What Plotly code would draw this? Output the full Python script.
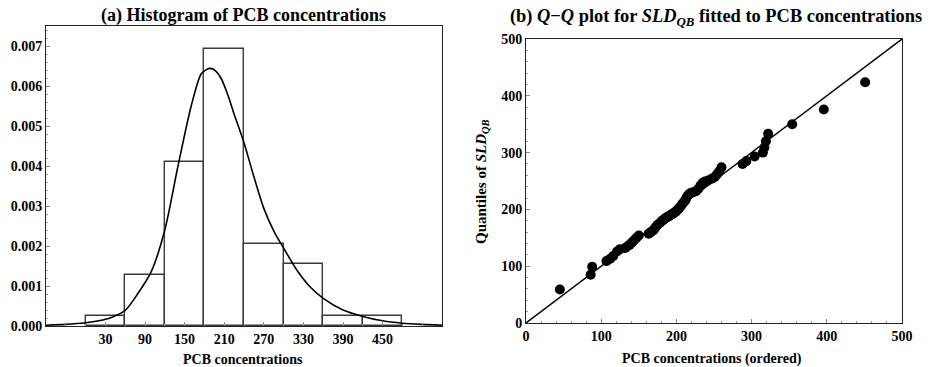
import plotly.graph_objects as go

# ---- data ----
# PCB concentrations (ordered sample, n = 65) and fitted SLD_QB quantiles
pcb_ordered = [45, 86, 88, 107, 112, 116,
               121, 125, 132, 135, 138, 141, 144, 147, 150, 163, 166, 169, 171, 173, 175, 178,
               181, 183, 185, 187, 189, 191, 193, 195, 197, 199, 200, 202, 204, 206, 208, 210,
               212, 213, 215, 217, 219, 222, 226, 229, 232, 235, 238,
               242, 247, 251, 254, 257, 260, 288, 293,
               304, 315, 317, 319, 322, 354,
               396, 451]
sld_quantiles = [59, 85, 99, 109, 113, 118,
                 126, 130, 132, 135, 138, 142, 146, 150, 154, 157, 160, 163, 166, 170, 173, 176,
                 180, 182, 184, 186, 187, 189, 191, 192, 194, 196, 197, 200, 203, 206, 210, 213,
                 216, 220, 224, 227, 229, 230, 232, 236, 242, 247, 249,
                 251, 254, 257, 262, 267, 274, 280, 285,
                 293, 300, 309, 320, 333, 350,
                 376, 424]

# fitted SLD_QB density
dens_x = [-60, -30, 0, 20, 40, 60, 80, 100, 120, 140, 160, 175, 183, 189, 196, 205, 215,
          225, 240, 255, 270, 285, 300, 320, 340, 360, 390, 420, 450, 480, 510, 540]
dens_y = [0.00002, 0.00004, 0.00008, 0.00013, 0.00022, 0.00039, 0.00083, 0.00138, 0.0024,
          0.0040, 0.0055, 0.0063, 0.00641, 0.00644, 0.00639, 0.0062, 0.0058, 0.0053,
          0.00458, 0.00373, 0.00294, 0.00238, 0.00195, 0.0014, 0.00098, 0.00069, 0.0004,
          0.00024, 0.00013, 0.00007, 0.00004, 0.00002]

hist_ticks = [30, 90, 150, 210, 270, 330, 390, 450]
hist_yticks = [0, 0.001, 0.002, 0.003, 0.004, 0.005, 0.006, 0.007]
hist_yticklabels = ["0.000", "0.001", "0.002", "0.003", "0.004", "0.005", "0.006", "0.007"]
qq_ticks = [0, 100, 200, 300, 400, 500]
ref_line = [0, 500]

FONT = "Liberation Serif"
W, H = 933, 367

fig = go.Figure()

fig.add_trace(go.Histogram(
    x=pcb_ordered, histnorm="probability density",
    xbins=dict(start=0, end=480, size=60), autobinx=False,
    marker=dict(color="white", line=dict(color="#3a3a3a", width=1.4)),
    xaxis="x", yaxis="y", showlegend=False, hoverinfo="skip"))

fig.add_trace(go.Scatter(
    x=dens_x, y=dens_y, mode="lines", line=dict(color="black", width=1.6, shape="spline", smoothing=0.8),
    xaxis="x", yaxis="y", showlegend=False))

fig.add_trace(go.Scatter(
    x=ref_line, y=ref_line, mode="lines", line=dict(color="black", width=1.4),
    xaxis="x2", yaxis="y2", showlegend=False))

fig.add_trace(go.Scatter(
    x=pcb_ordered, y=sld_quantiles, mode="markers",
    marker=dict(color="black", size=10),
    xaxis="x2", yaxis="y2", showlegend=False))

axis_common = dict(
    showline=True, linecolor="#222", linewidth=1, mirror=True,
    ticks="inside", ticklen=4, tickcolor="#888", tickwidth=1,
    showgrid=False, zeroline=False, automargin=False,
    tickfont=dict(family=FONT, size=14, color="black", weight="bold"),
)

fig.update_layout(
    width=W, height=H,
    margin=dict(l=0, r=0, t=0, b=0, autoexpand=False),
    paper_bgcolor="white", plot_bgcolor="white",
    bargap=0,
    xaxis=dict(domain=[46 / W, 442 / W], range=[-60, 540], tickvals=hist_ticks,
               minor=dict(ticks="inside", ticklen=2, tickcolor="#999", dtick=30, tick0=0),
               anchor="y", **axis_common),
    yaxis=dict(domain=[(H - 326) / H, (H - 26) / H], range=[0, 0.0075], tickvals=hist_yticks,
               ticktext=hist_yticklabels,
               minor=dict(ticks="inside", ticklen=2, tickcolor="#999", dtick=0.0002, tick0=0),
               anchor="x", **axis_common),
    xaxis2=dict(domain=[526 / W, 902 / W], range=[0, 500], tickvals=qq_ticks,
                minor=dict(ticks="inside", ticklen=2, tickcolor="#999", dtick=20, tick0=0),
                anchor="y2", **axis_common),
    yaxis2=dict(domain=[(H - 323) / H, (H - 39) / H], range=[0, 500], tickvals=qq_ticks,
                minor=dict(ticks="inside", ticklen=2, tickcolor="#999", dtick=20, tick0=0),
                anchor="x2", **axis_common),
)

label_font = dict(family=FONT, size=14, color="black")

annots = [
    (243, 15, "<b>(a) Histogram of PCB concentrations</b>", dict(family=FONT, size=18, color="black"), 0),
    (716, 17, "<b>(b) <i>Q</i>−<i>Q</i> plot for <i>SLD<sub>QB</sub></i> fitted to PCB concentrations</b>",
     dict(family=FONT, size=18.4, color="black"), 0),
    (243, 359, "<b>PCB concentrations</b>", label_font, 0),
    (712, 359, "<b>PCB concentrations (ordered)</b>", label_font, 0),
    (482, 182, "<b>Quantiles of <i>SLD<sub>QB</sub></i></b>", dict(family=FONT, size=15, color="black"), -90),
]
for px, py, txt, fnt, ang in annots:
    fig.add_annotation(x=px / W, y=(H - py) / H, xref="paper", yref="paper", text=txt,
                       showarrow=False, font=fnt, textangle=ang, xanchor="center", yanchor="middle")

fig.write_html("out.html", config={"displayModeBar": False},
               post_script="document.body.style.margin='0';")
